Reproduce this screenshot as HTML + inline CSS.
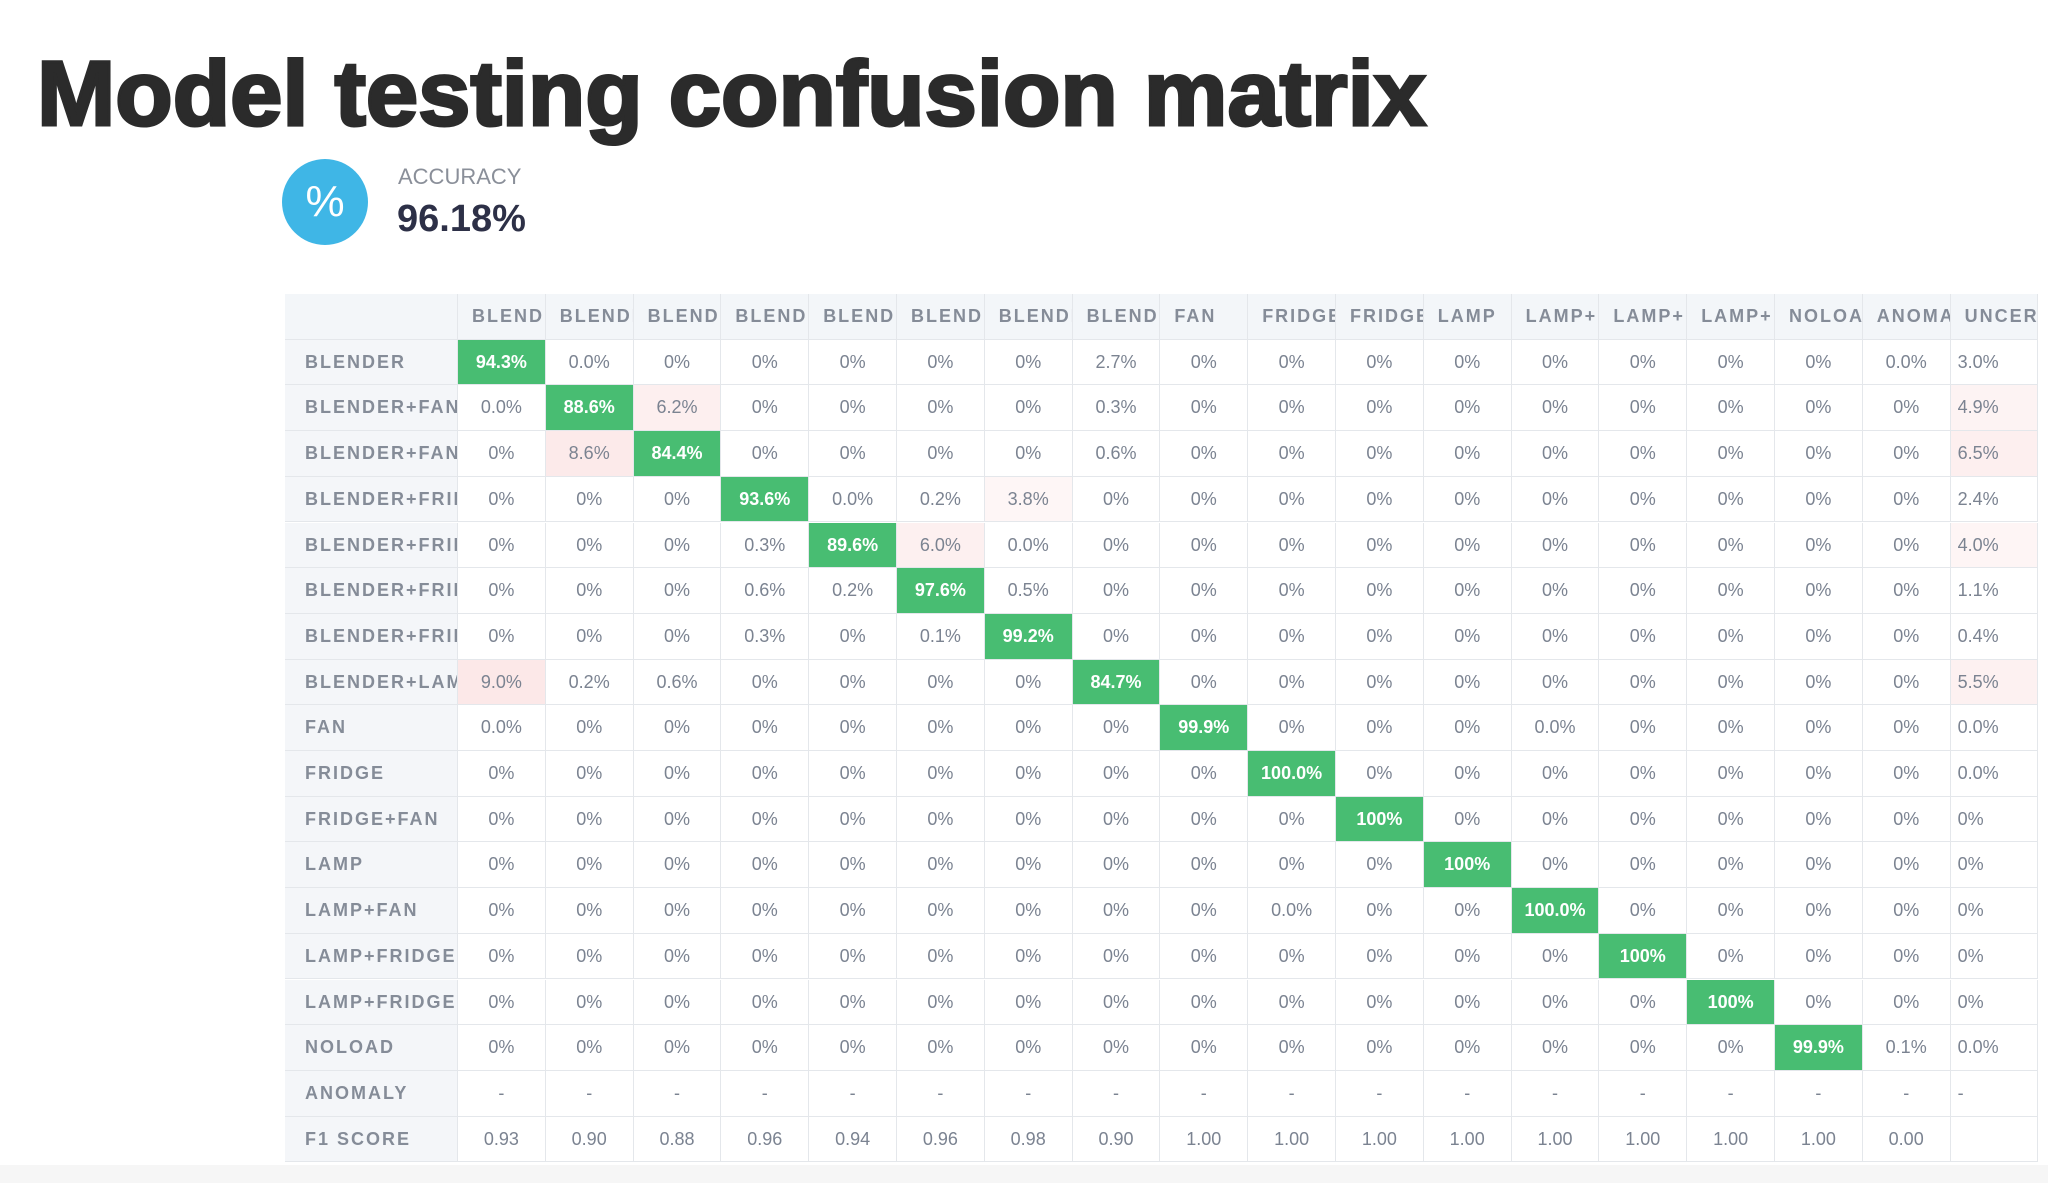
<!DOCTYPE html>
<html><head><meta charset="utf-8">
<style>
html,body{margin:0;padding:0;}
body{width:2048px;height:1183px;background:#fff;position:relative;overflow:hidden;font-family:"Liberation Sans",sans-serif;}
#bottomfade{position:absolute;left:0;top:1165px;width:2048px;height:18px;background:#f6f6f6;}
#title{position:absolute;left:0;top:0;}
#icon{position:absolute;left:282px;top:159px;width:86px;height:86px;border-radius:50%;background:#3fb6e6;color:#fff;font-size:44px;text-align:center;line-height:86px;}
#acc-label{position:absolute;left:398px;top:164px;font-size:22px;color:#8a8f99;font-family:"Liberation Sans Narrow","Liberation Sans",sans-serif;}
#acc-value{position:absolute;left:397px;top:198px;font-size:38px;color:#2d3047;font-weight:bold;font-family:"Liberation Sans Narrow","Liberation Sans",sans-serif;}
#matrix{position:absolute;left:285px;top:294px;}
.cell{position:absolute;box-sizing:border-box;border-right:1px solid #e4e7eb;border-bottom:1px solid #e4e7eb;font-family:"Liberation Sans Narrow","Liberation Sans",sans-serif;font-size:18px;color:#7b8391;text-align:center;overflow:hidden;white-space:nowrap;}
.hdr{background:#f3f6f9;text-align:left;padding-left:14px;letter-spacing:2px;color:#858c98;font-weight:bold;}
.rowlab{background:#f4f6f9;text-align:left;padding-left:20px;letter-spacing:2px;color:#858c98;font-weight:bold;}
.diag{background:#48bd72;color:#fff;font-weight:bold;}
</style></head>
<body>
<div id="bottomfade"></div>
<svg id="title" width="1500" height="150">
<text x="37" y="125" font-family="Liberation Sans, sans-serif" font-weight="bold" font-size="92" fill="#2b2b2b" stroke="#2b2b2b" stroke-width="3" textLength="1389" lengthAdjust="spacingAndGlyphs">Model testing confusion matrix</text>
</svg>
<div id="icon">%</div>
<div id="acc-label">ACCURACY</div>
<div id="acc-value">96.18%</div>
<div id="matrix"></div>
<script>
const colLabels=["BLENDER","BLENDER","BLENDER","BLENDER","BLENDER","BLENDER","BLENDER","BLENDER","FAN","FRIDGE","FRIDGE","LAMP","LAMP+","LAMP+","LAMP+","NOLOAD","ANOMALY","UNCERTAIN"];
const rowLabels=["BLENDER","BLENDER+FAN","BLENDER+FAN","BLENDER+FRIDGE","BLENDER+FRIDGE","BLENDER+FRIDGE","BLENDER+FRIDGE","BLENDER+LAMP","FAN","FRIDGE","FRIDGE+FAN","LAMP","LAMP+FAN","LAMP+FRIDGE","LAMP+FRIDGE+FAN","NOLOAD","ANOMALY","F1 SCORE"];
const Z="0%";
const row0=["94.3%","0.0%",Z,Z,Z,Z,Z,"2.7%",Z,Z,Z,Z,Z,Z,Z,Z,"0.0%","3.0%"];
const row1=["0.0%","88.6%","6.2%",Z,Z,Z,Z,"0.3%",Z,Z,Z,Z,Z,Z,Z,Z,Z,"4.9%"];
const row2=[Z,"8.6%","84.4%",Z,Z,Z,Z,"0.6%",Z,Z,Z,Z,Z,Z,Z,Z,Z,"6.5%"];
const row3=[Z,Z,Z,"93.6%","0.0%","0.2%","3.8%",Z,Z,Z,Z,Z,Z,Z,Z,Z,Z,"2.4%"];
const row4=[Z,Z,Z,"0.3%","89.6%","6.0%","0.0%",Z,Z,Z,Z,Z,Z,Z,Z,Z,Z,"4.0%"];
const row5=[Z,Z,Z,"0.6%","0.2%","97.6%","0.5%",Z,Z,Z,Z,Z,Z,Z,Z,Z,Z,"1.1%"];
const row6=[Z,Z,Z,"0.3%",Z,"0.1%","99.2%",Z,Z,Z,Z,Z,Z,Z,Z,Z,Z,"0.4%"];
const row7=["9.0%","0.2%","0.6%",Z,Z,Z,Z,"84.7%",Z,Z,Z,Z,Z,Z,Z,Z,Z,"5.5%"];
const row8=["0.0%",Z,Z,Z,Z,Z,Z,Z,"99.9%",Z,Z,Z,"0.0%",Z,Z,Z,Z,"0.0%"];
const row9=[Z,Z,Z,Z,Z,Z,Z,Z,Z,"100.0%",Z,Z,Z,Z,Z,Z,Z,"0.0%"];
const row10=[Z,Z,Z,Z,Z,Z,Z,Z,Z,Z,"100%",Z,Z,Z,Z,Z,Z,Z];
const row11=[Z,Z,Z,Z,Z,Z,Z,Z,Z,Z,Z,"100%",Z,Z,Z,Z,Z,Z];
const row12=[Z,Z,Z,Z,Z,Z,Z,Z,Z,"0.0%",Z,Z,"100.0%",Z,Z,Z,Z,Z];
const row13=[Z,Z,Z,Z,Z,Z,Z,Z,Z,Z,Z,Z,Z,"100%",Z,Z,Z,Z];
const row14=[Z,Z,Z,Z,Z,Z,Z,Z,Z,Z,Z,Z,Z,Z,"100%",Z,Z,Z];
const row15=[Z,Z,Z,Z,Z,Z,Z,Z,Z,Z,Z,Z,Z,Z,Z,"99.9%","0.1%","0.0%"];
const row16=["-","-","-","-","-","-","-","-","-","-","-","-","-","-","-","-","-","-"];
const f1Scores=["0.93","0.90","0.88","0.96","0.94","0.96","0.98","0.90","1.00","1.00","1.00","1.00","1.00","1.00","1.00","1.00","0.00",""];
const rows=[row0,row1,row2,row3,row4,row5,row6,row7,row8,row9,row10,row11,row12,row13,row14,row15,row16,f1Scores];

const m=document.getElementById('matrix');
const labW=173, colW=87.8, rowH=45.7;
const colX=i=>labW+i*colW;
const rowY=j=>rowH*(j+1);
function mk(x,y,w,h,txt,cls){
  const d=document.createElement('div');
  d.className='cell '+cls;
  d.style.left=x+'px';d.style.top=y+'px';d.style.width=w+'px';d.style.height=h+'px';d.style.lineHeight=h+'px';
  d.textContent=txt;m.appendChild(d);return d;
}
let c=mk(0,0,labW,rowH,'','hdr');


colLabels.forEach((l,i)=>{
  const d=mk(colX(i),0,colW,rowH,l,'hdr');
  
  
});
rowLabels.forEach((l,j)=>{
  const d=mk(0,rowY(j),labW,rowH,l,'rowlab');
  
  
});
rows.forEach((r,j)=>{
  r.forEach((v,i)=>{
    const isDiag=(i===j && j<16);
    const d=mk(colX(i),rowY(j),colW,rowH,v,isDiag?'diag':'');
    if(i===17){d.style.textAlign='left';d.style.paddingLeft='7px';}
    const num=parseFloat(v);
    if(!isDiag && j<16 && !isNaN(num) && num>=3.5){
      d.style.background='rgba(245,180,180,'+Math.min(0.35,num/30)+')';
    }
    
    
  });
});
</script>
</body></html>
